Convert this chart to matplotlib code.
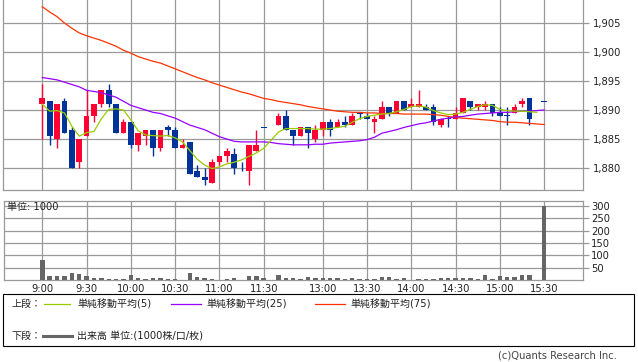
import matplotlib
matplotlib.use("Agg")
import matplotlib.pyplot as plt
import numpy as np
from matplotlib.lines import Line2D
from matplotlib.patches import Rectangle

plt.rcParams['font.family'] = ['DejaVu Sans', 'Noto Sans CJK JP']

# 5-minute candles, index 0 = 9:00 ... 68 = 15:30 (None = no trade)
opens = [1891, 1891.5, 1885, 1891.5, 1886.5, 1881, 1885.5, 1889, 1891, 1893.5,
         1891, 1886, 1888, 1884, 1885.5, 1886.5, 1883.5, 1887, 1886.5, 1883.5,
         1884.5, 1879.5, 1878.5, 1877.5, 1881, 1882, 1882.5, 1880, 1879.5, 1883,
         1887, None, 1887.5, 1889, 1886.5, 1885.5, 1887, 1885, 1886.5, 1888,
         1887, 1888, 1887.5, 1889.5, 1889, 1888, 1888.5, 1890.5, 1889.5, 1891.5,
         1890.5, 1890.5, 1890.5, 1890.5, 1887.5, 1888.7, 1888.5, 1889.5, 1891.5, 1890.5,
         1890.5, 1891, 1889.5, 1889, 1889.5, 1891, 1892, None, 1891.5]
highs = [1894.5, 1891.5, 1891, 1892, 1887, 1885, 1893.5, 1891, 1893.5, 1894.5,
         1891, 1888.5, 1888, 1886, 1886.5, 1886.5, 1886.5, 1887.5, 1887, 1885,
         1884.5, 1880.5, 1880, 1881.5, 1882, 1883.5, 1883.5, 1881, 1884, 1886.5,
         1887, None, 1889.5, 1890, 1886.5, 1887, 1887, 1887.5, 1888, 1888.5,
         1888.5, 1889, 1889.5, 1889.5, 1889.5, 1889, 1891.5, 1890.5, 1891.5, 1891.5,
         1892, 1893.5, 1891, 1891, 1888.7, 1889, 1890.5, 1892, 1891.5, 1891,
         1891.5, 1891, 1890.5, 1890.5, 1891, 1892, 1892, None, 1891.5]
lows = [1885, 1884, 1883.5, 1886, 1880, 1880, 1885.5, 1888, 1890.5, 1890.5,
        1886, 1886, 1883.5, 1883, 1884, 1882, 1883, 1885.5, 1883.5, 1883.5,
        1879, 1878.5, 1877, 1877.5, 1880.5, 1881, 1879, 1879.5, 1877, 1883,
        1887, None, 1887.5, 1886.5, 1884, 1885.5, 1883.5, 1884.5, 1885.5, 1885.5,
        1887, 1887, 1887.5, 1888.5, 1888.5, 1886, 1888.5, 1889, 1889.5, 1890,
        1890.5, 1890.5, 1890, 1887.5, 1887, 1887, 1888.5, 1889.5, 1890, 1890,
        1890, 1889, 1889, 1887.5, 1889.5, 1890.5, 1887.5, None, 1891.5]
closes = [1892, 1885.5, 1891, 1886, 1880, 1885, 1889, 1891, 1893.5, 1891,
          1886, 1888, 1884, 1886, 1886.5, 1883.5, 1886.5, 1886.5, 1883.5, 1884,
          1879, 1878.5, 1878, 1881, 1882, 1883, 1880, 1880, 1884, 1884,
          1887, None, 1889, 1886.5, 1885.5, 1887, 1886, 1886.5, 1888, 1886.5,
          1888, 1887.5, 1889, 1889.3, 1888.5, 1888.5, 1890.5, 1889.5, 1891.5, 1890,
          1891, 1891, 1890, 1888, 1888.5, 1888.4, 1889.5, 1892, 1890.5, 1891,
          1891, 1889.5, 1889, 1889, 1890.5, 1891.5, 1888.5, None, 1891.5]

ma5 = [1891.0, 1889.8, 1889.9, 1889.5, 1887.2, 1885.5, 1886.1, 1886.3, 1888.5, 1890.1,
       1890.2, 1890.0, 1888.3, 1886.4, 1885.7, 1885.6, 1885.5, 1885.6, 1885.2, 1884.5,
       1883.0, 1881.5, 1880.5, 1879.9, 1880.2, 1880.7, 1881.0, 1881.4, 1882.0, 1882.6,
       1883.4, 1884.8, 1886.2, 1886.8, 1886.8, 1886.8, 1886.8, 1886.7, 1886.7, 1886.8,
       1887.0, 1887.2, 1887.9, 1888.5, 1888.9, 1889.1, 1889.3, 1889.4, 1889.7, 1890.1,
       1890.6, 1890.7, 1890.5, 1889.9, 1889.5, 1889.2, 1889.3, 1889.6, 1890.1, 1890.6,
       1890.9, 1890.8, 1890.1, 1889.9, 1889.8, 1889.8, 1889.7, 1889.6, None]
ma25 = [1895.6, 1895.4, 1895.2, 1894.8, 1894.4, 1894.0, 1893.4, 1893.2, 1893.0, 1892.6,
        1892.2, 1891.5, 1890.8, 1890.4, 1890.0, 1889.6, 1889.4, 1889.0, 1888.6, 1888.0,
        1887.4, 1887.0, 1886.6, 1886.0, 1885.4, 1885.0, 1884.6, 1884.5, 1884.5, 1884.5,
        1884.5, 1884.4, 1884.2, 1884.1, 1884.0, 1884.0, 1884.0, 1884.1, 1884.1, 1884.3,
        1884.4, 1884.5, 1884.6, 1884.7, 1884.9, 1885.3, 1886.0, 1886.3, 1886.6, 1887.0,
        1887.3, 1887.6, 1887.8, 1888.1, 1888.4, 1888.6, 1888.8, 1888.9, 1889.1, 1889.3,
        1889.4, 1889.5, 1889.6, 1889.6, 1889.7, 1889.8, 1889.8, 1889.9, 1890.0]
ma75 = [1907.8, 1906.9, 1906.1, 1905.0, 1904.1, 1903.3, 1902.8, 1902.4, 1902.0, 1901.5,
        1901.0, 1900.3, 1899.8, 1899.2, 1898.8, 1898.4, 1898.1, 1897.6, 1897.1, 1896.6,
        1896.1, 1895.6, 1895.2, 1894.7, 1894.3, 1893.9, 1893.5, 1893.1, 1892.8, 1892.4,
        1892.0, 1891.8, 1891.5, 1891.3, 1891.1, 1890.9, 1890.6, 1890.4, 1890.2, 1890.0,
        1889.8, 1889.7, 1889.6, 1889.6, 1889.5, 1889.5, 1889.4, 1889.4, 1889.4, 1889.3,
        1889.3, 1889.3, 1889.3, 1889.2, 1889.1, 1888.9, 1888.7, 1888.6, 1888.5, 1888.4,
        1888.3, 1888.2, 1888.0, 1887.9, 1887.9, 1887.8, 1887.7, 1887.6, 1887.5]

volume = [80, 16, 16, 16, 28, 24, 16, 7, 8, 5,
          5, 5, 20, 7, 5, 8, 8, 5, 5, 1,
          28, 12, 8, 5, 1, 4, 8, 1, 16, 16,
          9, 0, 20, 9, 8, 5, 12, 8, 10, 8,
          8, 5, 8, 5, 5, 5, 14, 14, 6, 8,
          2, 4, 4, 4, 8, 8, 8, 8, 8, 5,
          20, 5, 16, 12, 12, 20, 20, 0, 300]

tick_idx = [0, 6, 12, 18, 24, 30, 38, 44, 50, 56, 62, 68]
tick_lbl = ['9:00', '9:30', '10:00', '10:30', '11:00', '11:30',
            '13:00', '13:30', '14:00', '14:30', '15:00', '15:30']

UP = '#ff0033'
DOWN = '#003399'
GRID = '#999999'
TXT = '#222222'

W, H = 638, 362
fig = plt.figure(figsize=(W / 100, H / 100), dpi=100)


def px_axes(l, t, r, b):
    return fig.add_axes([l / W, 1 - b / H, (r - l) / W, (b - t) / H])


ax = px_axes(3, 0, 583, 190)
axv = px_axes(4, 201, 583, 280)

n = len(opens)
x = np.arange(n)
o = np.array([np.nan if v is None else v for v in opens])
h = np.array([np.nan if v is None else v for v in highs])
l = np.array([np.nan if v is None else v for v in lows])
c = np.array([np.nan if v is None else v for v in closes])
valid = ~np.isnan(o)
up = valid & (c > o)
dn = valid & ~up
colors = np.where(up, UP, DOWN)

# wicks
ax.vlines(x[valid], l[valid], h[valid], colors=colors[valid], lw=1.0, zorder=3)
# bodies
body_lo = np.minimum(o, c)
body_h = np.maximum(np.abs(c - o), 0.15)
ax.bar(x[valid], body_h[valid], bottom=body_lo[valid] - np.where(np.abs(c - o) < 0.15, 0.075, 0)[valid],
       width=0.78, color=colors[valid], linewidth=0, zorder=4)

def arr(v):
    return np.array([np.nan if a is None else a for a in v])

ax.plot(x, arr(ma75), color='#ff3300', lw=0.9, zorder=5)
ax.plot(x, arr(ma25), color='#9900ff', lw=0.9, zorder=5)
ax.plot(x, arr(ma5), color='#99cc00', lw=0.9, zorder=5)

xl = (-(42.3 - 3) / 7.38, -(42.3 - 3) / 7.38 + 580 / 7.38)
ax.set_xlim(xl)
ax.set_ylim(1876.21, 1908.97)
ax.set_xticks(tick_idx)
ax.set_yticks([1880, 1885, 1890, 1895, 1900, 1905])
ax.yaxis.set_major_formatter(matplotlib.ticker.FuncFormatter(lambda v, p: f'{v:,.0f}'))
ax.yaxis.tick_right()
ax.tick_params(axis='x', length=0, labelbottom=False)
ax.tick_params(axis='y', length=4, width=0.9, color=GRID, pad=3, labelsize=7.2, labelcolor=TXT)
ax.grid(True, color=GRID, lw=0.9, zorder=0)
ax.set_axisbelow(True)
for s in ['left', 'bottom', 'right']:
    ax.spines[s].set_color(GRID)
    ax.spines[s].set_linewidth(0.9)
ax.spines['top'].set_visible(False)

# volume
axv.bar(x, volume, width=0.6, color='#666666', linewidth=0, zorder=3)
axv.set_xlim(-(42.3 - 4) / 7.38, -(42.3 - 4) / 7.38 + 579 / 7.38)
axv.set_ylim(0, 320)
axv.set_xticks(tick_idx)
axv.set_xticklabels(tick_lbl)
axv.set_yticks([50, 100, 150, 200, 250, 300])
axv.yaxis.tick_right()
axv.tick_params(axis='x', length=0, pad=3, labelsize=7.2, labelcolor=TXT)
axv.tick_params(axis='y', length=4, width=0.9, color=GRID, pad=2, labelsize=7.2, labelcolor=TXT)
axv.grid(True, color=GRID, lw=0.9, zorder=0)
axv.set_axisbelow(True)
for s in axv.spines.values():
    s.set_color(GRID)
    s.set_linewidth(0.9)
axv.text(0.006, 0.92, '単位: 1000', transform=axv.transAxes, fontsize=7.2,
         color=TXT, va='center', ha='left', zorder=6)

# legend box
fig.patches.append(Rectangle((3 / W, 1 - 346 / H), (634 - 3) / W, (346 - 294) / H,
                             transform=fig.transFigure, fill=False, edgecolor='#000000', lw=0.8))


def fx(px):
    return px / W


def fy(py):
    return 1 - py / H


fig.text(fx(11), fy(304), '上段：', fontsize=7.2, color=TXT, va='center')
fig.text(fx(11), fy(336), '下段：', fontsize=7.2, color=TXT, va='center')
items = [(44, 70, 77, '#99cc00', '単純移動平均(5)'),
         (171, 201, 206, '#9900ff', '単純移動平均(25)'),
         (315, 345, 350, '#ff3300', '単純移動平均(75)')]
for x0, x1, tx, col, lab in items:
    fig.lines.append(Line2D([fx(x0), fx(x1)], [fy(304), fy(304)], transform=fig.transFigure,
                            color=col, lw=0.9))
    fig.text(fx(tx), fy(304), lab, fontsize=7.2, color=TXT, va='center')
fig.lines.append(Line2D([fx(43), fx(72)], [fy(336), fy(336)], transform=fig.transFigure,
                        color='#666666', lw=2.2))
fig.text(fx(77), fy(336), '出来高 単位:(1000株/口/枚)', fontsize=7.2, color=TXT, va='center')
fig.text(fx(617), fy(356), '(c)Quants Research Inc.', fontsize=7.2, color='#444444',
         va='center', ha='right')

fig.savefig('out.png', dpi=100)
